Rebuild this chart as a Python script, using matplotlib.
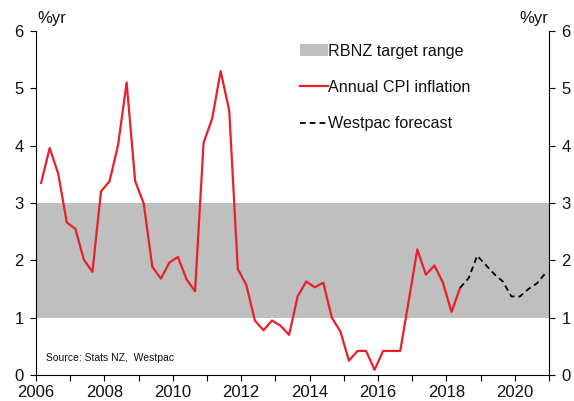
import matplotlib
matplotlib.use('Agg')
import matplotlib.pyplot as plt
import matplotlib.patches as mpatches
from matplotlib.lines import Line2D
import numpy as np

plt.rcParams['font.family'] = ['Liberation Sans', 'DejaVu Sans']

# quarterly, Mar 2006 .. Jun 2018 (actual)
cpi_actual = [3.35, 3.96, 3.51, 2.66, 2.55, 2.01, 1.80, 3.20, 3.38, 4.01,
              5.10, 3.38, 2.99, 1.89, 1.68, 1.96, 2.06, 1.67, 1.46, 4.05,
              4.47, 5.30, 4.61, 1.85, 1.57, 0.95, 0.78, 0.95, 0.86, 0.70,
              1.37, 1.63, 1.53, 1.61, 1.00, 0.76, 0.25, 0.42, 0.42, 0.09,
              0.42, 0.42, 0.42, 1.30, 2.19, 1.75, 1.91, 1.61, 1.10, 1.52]
# Westpac forecast, Sep 2018 .. Dec 2020
cpi_forecast = [1.69, 2.08, 1.92, 1.76, 1.63, 1.37, 1.37, 1.50, 1.60, 1.78]

target_low, target_high = 1, 3
year_ticks = [2006, 2008, 2010, 2012, 2014, 2016, 2018, 2020]
y_ticks = [0, 1, 2, 3, 4, 5, 6]

RED = '#E8202A'
GREY = '#BFBFBF'
TEXT = '#111111'

start = 2006.15
x_act = start + 0.25 * np.arange(len(cpi_actual))
x_fc = start + 0.25 * np.arange(len(cpi_actual) - 1, len(cpi_actual) + len(cpi_forecast))
y_fc = [cpi_actual[-1]] + cpi_forecast

fig = plt.figure(figsize=(5.74, 4.01), dpi=100)
ax = fig.add_axes([36 / 574, 26 / 401, 513 / 574, 344 / 401])

ax.axhspan(target_low, target_high, color=GREY, lw=0, zorder=1)
ax.plot(x_act, cpi_actual, color=RED, lw=1.6, zorder=3)
ax.plot(x_fc, y_fc, color='black', lw=1.3, ls=(0, (3.2, 2.2)), zorder=3)

ax.set_xlim(2006, 2021)
ax.set_ylim(0, 6)
ax.set_xticks(range(2006, 2022), minor=True)
ax.set_xticks(year_ticks)
ax.set_xticklabels([str(y) for y in year_ticks])
ax.set_yticks(y_ticks)

ax.spines['top'].set_visible(False)
for s in ['left', 'right', 'bottom']:
    ax.spines[s].set_color('black')
    ax.spines[s].set_linewidth(0.8)

ax.tick_params(axis='both', which='both', direction='out', length=4, width=0.8,
               labelsize=12, colors='black', labelcolor=TEXT)
ax.tick_params(axis='x', which='major', pad=3)
ax.tick_params(axis='y', right=True, labelright=True, pad=5)

fig.text(37 / 574, 1 - 18 / 401, '%yr', fontsize=12, color=TEXT, ha='left', va='center')
fig.text(548 / 574, 1 - 18 / 401, '%yr', fontsize=12, color=TEXT, ha='right', va='center')
ax.text(2006.3, 0.3, 'Source: Stats NZ,  Westpac', fontsize=7.5, color=TEXT,
        ha='left', va='center')

handles = [
    mpatches.Patch(color=GREY, lw=0, label='RBNZ target range'),
    Line2D([0], [0], color=RED, lw=1.6, label='Annual CPI inflation'),
    Line2D([0], [0], color='black', lw=1.3, ls=(0, (3.2, 2.2)), label='Westpac forecast'),
]
leg = ax.legend(handles=handles, loc='upper left', bbox_to_anchor=(0.515, 0.963),
                frameon=False, fontsize=11.6, handlelength=1.7, handletextpad=0.05,
                labelspacing=1.32, borderpad=0, borderaxespad=0)
for t in leg.get_texts():
    t.set_color(TEXT)

fig.savefig('out.png', dpi=100)
